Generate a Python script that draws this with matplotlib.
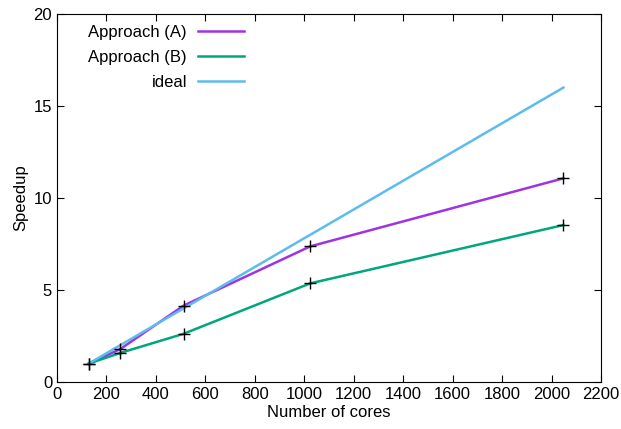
import numpy as np
import matplotlib.pyplot as plt

plt.rcParams['font.family'] = ['Liberation Sans', 'DejaVu Sans']

cores = [128, 256, 512, 1024, 2048]
speedup_a = [1.0, 1.79, 4.15, 7.37, 11.07]
speedup_b = [1.0, 1.58, 2.62, 5.36, 8.53]
ideal = [1, 2, 4, 8, 16]

fig = plt.figure(figsize=(6.21, 4.29), dpi=100)
ax = fig.add_axes([57 / 621, 1 - 382 / 429, 544 / 621, 368 / 429])

ax.plot(cores, speedup_a, color='#a033e0', lw=1.8, label='Approach (A)')
ax.plot(cores, speedup_b, color='#00a67e', lw=1.8, label='Approach (B)')
ax.plot(cores, ideal, color='#5cbcec', lw=1.8, label='ideal')
ax.plot(cores, speedup_a, ls='none', marker='+', ms=9, mew=1, color='black')
ax.plot(cores, speedup_b, ls='none', marker='+', ms=9, mew=1, color='black')

ax.set_xlim(0, 2200)
ax.set_ylim(0, 20)
ax.set_xticks(np.arange(0, 2201, 200))
ax.set_yticks([0, 5, 10, 15, 20])
ax.tick_params(direction='in', top=True, right=True, labelsize=12, length=5)
ax.set_xlabel('Number of cores', fontsize=12, labelpad=2)
ax.set_ylabel('Speedup', fontsize=12)

ax.legend(loc='upper left', frameon=False, markerfirst=False, fontsize=12,
          handlelength=2.8, handletextpad=0.65, bbox_to_anchor=(0.03, 1.01),
          labelspacing=0.6)

fig.savefig('out.png', dpi=100)
